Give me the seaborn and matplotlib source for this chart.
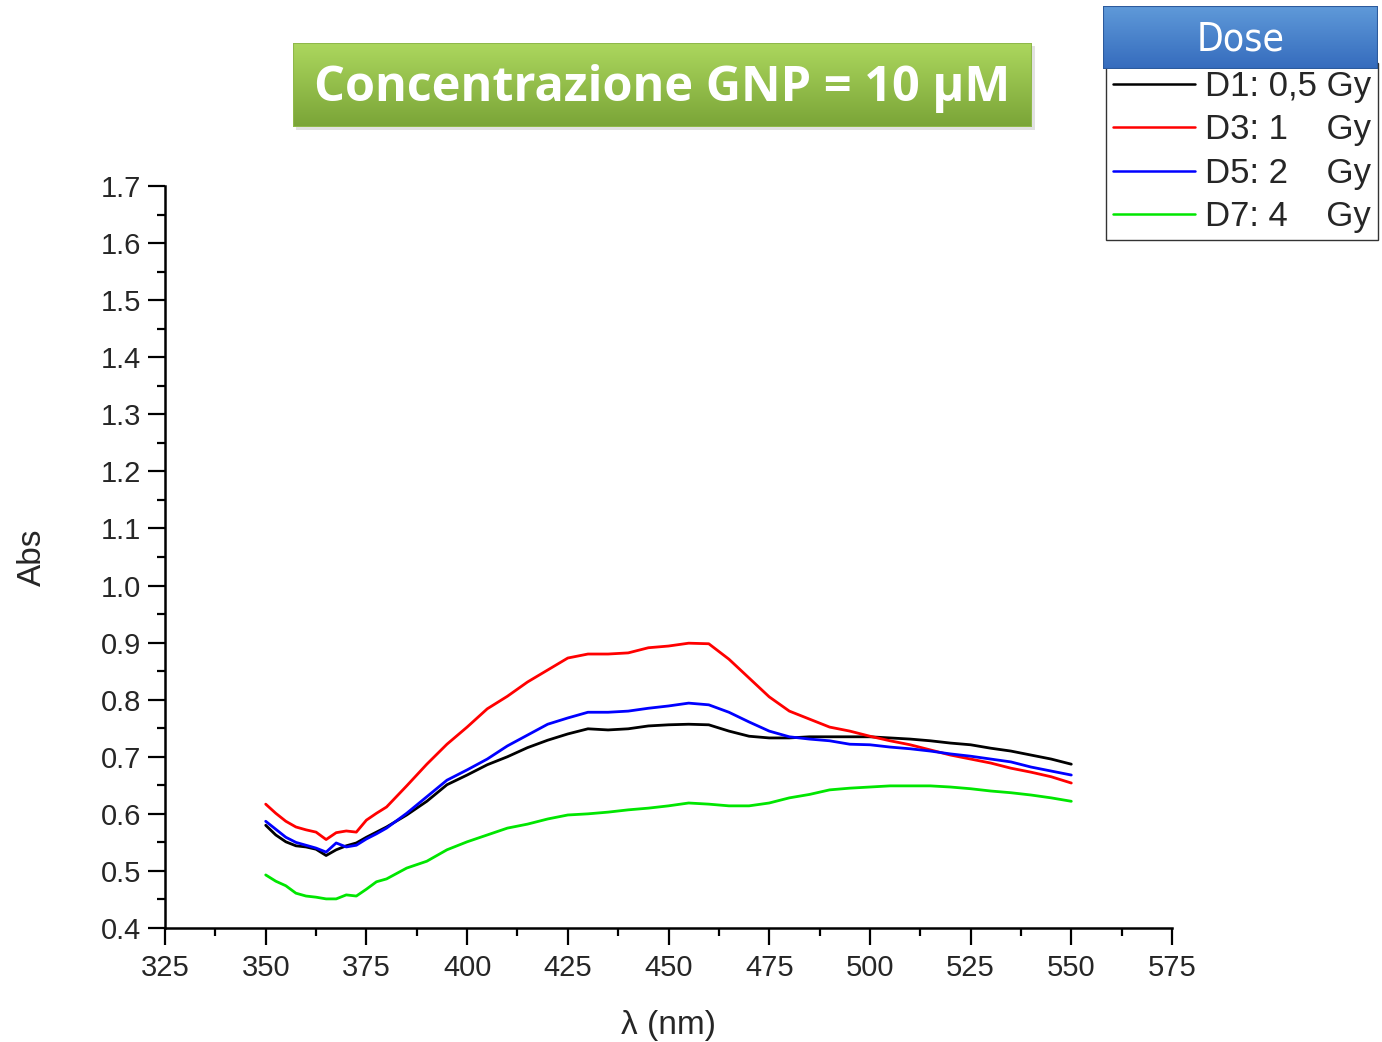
import numpy as np
import pandas as pd
import matplotlib
matplotlib.use("Agg")
import matplotlib.pyplot as plt
from matplotlib.ticker import MultipleLocator
from matplotlib.patches import Rectangle
import seaborn as sns

# Wavelength grid (nm)
wavelength = [350, 352.5, 355, 357.5, 360, 362.5, 365, 367.5, 370, 372.5, 375, 377.5,
              380, 385, 390, 395, 400, 405, 410, 415, 420, 425, 430, 435, 440, 445,
              450, 455, 460, 465, 470, 475, 480, 485, 490, 495, 500, 505, 510, 515,
              520, 525, 530, 535, 540, 545, 550]

# Absorbance for each dose
abs_d1 = [0.580, 0.563, 0.551, 0.544, 0.542, 0.538, 0.527, 0.537, 0.544, 0.549, 0.559, 0.568,
          0.577, 0.598, 0.622, 0.651, 0.668, 0.686, 0.700, 0.716, 0.729, 0.740, 0.749, 0.747,
          0.749, 0.754, 0.756, 0.757, 0.756, 0.745, 0.736, 0.733, 0.733, 0.735, 0.735, 0.735,
          0.735, 0.733, 0.731, 0.728, 0.724, 0.721, 0.715, 0.710, 0.703, 0.696, 0.687]
abs_d3 = [0.617, 0.601, 0.587, 0.577, 0.572, 0.568, 0.555, 0.567, 0.570, 0.568, 0.589, 0.601,
          0.612, 0.649, 0.687, 0.722, 0.752, 0.784, 0.806, 0.831, 0.852, 0.873, 0.880, 0.880,
          0.882, 0.891, 0.894, 0.899, 0.898, 0.871, 0.838, 0.805, 0.780, 0.766, 0.752, 0.745,
          0.736, 0.728, 0.721, 0.712, 0.703, 0.696, 0.689, 0.680, 0.673, 0.665, 0.654]
abs_d5 = [0.587, 0.573, 0.559, 0.550, 0.545, 0.540, 0.533, 0.549, 0.542, 0.545, 0.556, 0.565,
          0.575, 0.601, 0.630, 0.659, 0.677, 0.696, 0.719, 0.738, 0.757, 0.768, 0.778, 0.778,
          0.780, 0.785, 0.789, 0.794, 0.791, 0.778, 0.761, 0.745, 0.735, 0.731, 0.728, 0.722,
          0.721, 0.717, 0.714, 0.710, 0.705, 0.701, 0.696, 0.691, 0.682, 0.675, 0.668]
abs_d7 = [0.493, 0.482, 0.474, 0.461, 0.456, 0.454, 0.451, 0.451, 0.458, 0.456, 0.468, 0.481,
          0.486, 0.505, 0.517, 0.537, 0.551, 0.563, 0.575, 0.582, 0.591, 0.598, 0.600, 0.603,
          0.607, 0.610, 0.614, 0.619, 0.617, 0.614, 0.614, 0.619, 0.628, 0.634, 0.642, 0.645,
          0.647, 0.649, 0.649, 0.649, 0.647, 0.644, 0.640, 0.637, 0.633, 0.628, 0.622]

dose_labels = ["D1: 0,5 Gy", "D3: 1    Gy", "D5: 2    Gy", "D7: 4    Gy"]
line_colors = ["#000000", "#ff0000", "#0000ff", "#00e600"]

x_ticks = [325, 350, 375, 400, 425, 450, 475, 500, 525, 550, 575]
y_ticks = [0.4, 0.5, 0.6, 0.7, 0.8, 0.9, 1.0, 1.1, 1.2, 1.3, 1.4, 1.5, 1.6, 1.7]

title_text = "Concentrazione GNP = 10 µM"
legend_title = "Dose"

frames = []
for lab, vals in zip(dose_labels, [abs_d1, abs_d3, abs_d5, abs_d7]):
    frames.append(pd.DataFrame({"wl": wavelength, "Abs": vals, "Dose": lab}))
df = pd.concat(frames, ignore_index=True)

sns.set_style("ticks")
plt.rcParams["font.family"] = ["Liberation Sans", "DejaVu Sans"]

W, H = 1382, 1042
fig = plt.figure(figsize=(W / 100, H / 100), dpi=100)
ax = fig.add_axes([165 / W, 1 - 928 / H, (1172 - 165) / W, (928 - 186) / H])

sns.lineplot(data=df, x="wl", y="Abs", hue="Dose", hue_order=dose_labels,
             palette=dict(zip(dose_labels, line_colors)), linewidth=2.0,
             sort=False, estimator=None, ax=ax)

ax.set_xlim(x_ticks[0], x_ticks[-1])
ax.set_ylim(y_ticks[0], y_ticks[-1])
ax.set_xticks(x_ticks)
ax.set_yticks(y_ticks)
ax.set_yticklabels([f"{v:.1f}" for v in y_ticks])
ax.xaxis.set_minor_locator(MultipleLocator(12.5))
ax.yaxis.set_minor_locator(MultipleLocator(0.05))
ax.tick_params(which="major", length=12, width=1.6, labelsize=21, color="black")
ax.tick_params(axis="x", which="major", pad=7)
ax.tick_params(axis="y", which="major", pad=5)
ax.tick_params(which="minor", length=6, width=1.6, color="black")
for s in ["top", "right"]:
    ax.spines[s].set_visible(False)
for s in ["left", "bottom"]:
    ax.spines[s].set_linewidth(1.8)
    ax.spines[s].set_color("black")
ax.set_xlabel("λ (nm)", fontsize=24, labelpad=20)
ax.set_ylabel("Abs", fontsize=24, labelpad=38)

# Legend box
handles, labels = ax.get_legend_handles_labels()
leg = ax.legend(handles, labels, loc="upper left",
                bbox_to_anchor=(1106 / W, 1 - 63 / H), bbox_transform=fig.transFigure,
                frameon=True, fancybox=False, edgecolor="black", fontsize=25,
                handlelength=2.35, handletextpad=0.3, labelspacing=0.3,
                borderpad=0.2, borderaxespad=0)
leg.get_frame().set_linewidth(1.0)
for ln in leg.get_lines():
    ln.set_linewidth(1.8)


def gradient_box(x0, y0, x1, y1, top, bottom, edge):
    """Draw a shaded rectangle in pixel coordinates (top-left origin)."""
    bx = fig.add_axes([x0 / W, 1 - y1 / H, (x1 - x0) / W, (y1 - y0) / H])
    grad = np.linspace(0, 1, 256)[:, None]
    c_top = np.array(matplotlib.colors.to_rgb(top))
    c_bot = np.array(matplotlib.colors.to_rgb(bottom))
    img = c_top[None, None, :] * (1 - grad[..., None]) + c_bot[None, None, :] * grad[..., None]
    img = np.repeat(img, 4, axis=1)
    bx.imshow(img, aspect="auto", extent=[0, 1, 0, 1], interpolation="bilinear")
    bx.add_patch(Rectangle((0, 0), 1, 1, fill=False, edgecolor=edge, linewidth=1.5,
                           transform=bx.transAxes))
    bx.set_xlim(0, 1)
    bx.set_ylim(0, 1)
    bx.axis("off")
    return bx


# Soft drop shadow of the title box
shadow = fig.add_axes([296 / W, 1 - 130 / H, (1035 - 296) / W, (130 - 46) / H])
shadow.add_patch(Rectangle((0, 0), 1, 1, color="#e2e2e2", transform=shadow.transAxes))
shadow.axis("off")

tb = gradient_box(293, 43, 1032, 127, "#acd75e", "#7aa437", "#8fb84a")
tb.text(0.5, 0.46, title_text, color="white", fontsize=35, fontweight="bold",
        family=["Open Sans", "DejaVu Sans"], ha="center", va="center",
        transform=tb.transAxes)

db = gradient_box(1103, 6, 1378, 69, "#5f9ad9", "#356bbd", "#2c5a9c")
db.text(0.5, 0.47, legend_title, color="white", fontsize=28,
        family=["Liberation Sans Narrow", "DejaVu Sans"], fontstretch="condensed",
        ha="center", va="center", transform=db.transAxes)

fig.savefig("out.png", dpi=100, facecolor="white")
